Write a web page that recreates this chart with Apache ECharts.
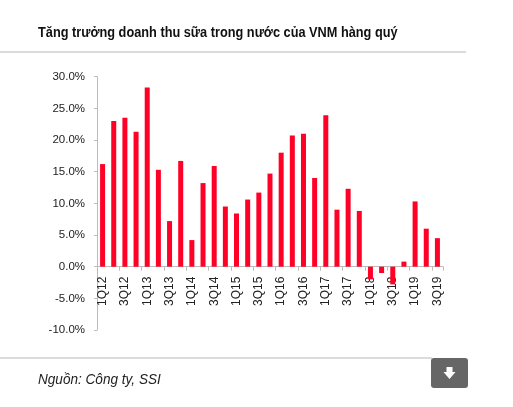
<!DOCTYPE html>
<html>
<head>
<meta charset="utf-8">
<script src="https://cdn.jsdelivr.net/npm/echarts@6/dist/echarts.min.js"></script>
<style>
html,body{margin:0;padding:0;background:#fff;}
#c{width:513px;height:407px;}
</style>
</head>
<body>
<div id="c"></div>
<script>
var categories = ['1Q12','2Q12','3Q12','4Q12','1Q13','2Q13','3Q13','4Q13','1Q14','2Q14','3Q14','4Q14','1Q15','2Q15','3Q15','4Q15','1Q16','2Q16','3Q16','4Q16','1Q17','2Q17','3Q17','4Q17','1Q18','2Q18','3Q18','4Q18','1Q19','2Q19','3Q19'];
var growth = [16.2,23.0,23.5,21.3,28.3,15.3,7.2,16.7,4.2,13.2,15.9,9.5,8.4,10.6,11.7,14.7,18.0,20.7,21.0,14.0,23.9,9.0,12.3,8.8,-2.0,-1.0,-2.8,0.8,10.3,6.0,4.5];
var yTicks = {min:-10, max:30, interval:5};
var titleText = 'Tăng trưởng doanh thu sữa trong nước của VNM hàng quý';
var sourceText = 'Nguồn: Công ty, SSI';

var FONT = '"Liberation Sans Narrow","Arial Narrow","Liberation Sans",sans-serif';
var gridTop = 76.7, gridBottom = 77, H = 407;
var plotH = H - gridTop - gridBottom;
var zeroOffset = plotH * (0 - yTicks.min) / (yTicks.max - yTicks.min);

var chart = echarts.init(document.getElementById('c'), null, {renderer:'canvas'});
chart.setOption({
  animation:false,
  backgroundColor:'#fff',
  graphic:[
    {type:'text', x:38, y:32.5, scaleX:0.85, style:{text:titleText, font:'bold 15px "Liberation Sans",sans-serif', fill:'#111', verticalAlign:'middle', align:'left'}},
    {type:'text', x:38, y:380.5, scaleX:0.97, style:{text:sourceText, font:'italic 14px "Liberation Sans",sans-serif', fill:'#222', verticalAlign:'middle', align:'left'}},
    {type:'line', shape:{x1:0,y1:52,x2:466,y2:52}, style:{stroke:'#cfcfcf', lineWidth:1.5}},
    {type:'line', shape:{x1:0,y1:358,x2:432,y2:358}, style:{stroke:'#cfcfcf', lineWidth:1.5}},
    {type:'rect', shape:{x:431,y:358,width:37,height:30,r:3}, style:{fill:'#666'}},
    {type:'polygon', shape:{points:[[446.5,367],[452.5,367],[452.5,372],[455.5,372],[449.5,379],[443.5,372],[446.5,372]]}, style:{fill:'#fff'}}
  ],
  grid:{left:97, right:70, top:gridTop, bottom:gridBottom},
  xAxis:{
    type:'category', data:categories, position:'bottom', offset:-zeroOffset,
    axisLine:{onZero:false, lineStyle:{color:'#bbb'}},
    axisTick:{show:true, alignWithLabel:false, length:4, lineStyle:{color:'#bbb'}},
    axisLabel:{rotate:90, interval:1, fontFamily:FONT, fontSize:12, color:'#222', margin:10}
  },
  yAxis:{
    type:'value', min:yTicks.min, max:yTicks.max, interval:yTicks.interval,
    splitLine:{show:false},
    axisLine:{show:true, lineStyle:{color:'#bbb'}},
    axisTick:{show:true, length:3, lineStyle:{color:'#bbb'}},
    axisLabel:{formatter:function(v){return v.toFixed(1)+'%';}, fontFamily:FONT, fontSize:11.5, color:'#222', margin:12}
  },
  series:[{type:'bar', data:growth, barWidth:5, z:3, itemStyle:{color:'#ff0027'}}]
});
</script>
</body>
</html>
